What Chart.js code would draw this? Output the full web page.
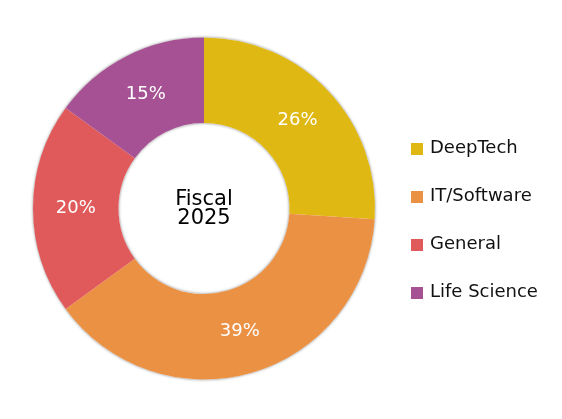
<!DOCTYPE html>
<html>
<head>
<meta charset="utf-8">
<script src="https://cdn.jsdelivr.net/npm/chart.js@4.4.1/dist/chart.umd.min.js"></script>
<style>
  html, body { margin: 0; padding: 0; background: #fff; }
  #wrap { width: 562px; height: 419px; position: relative; }
</style>
</head>
<body>
<div id="wrap"><canvas id="c" width="562" height="419"></canvas></div>
<script>
// Datos
const categories = ['DeepTech', 'IT/Software', 'General', 'Life Science'];
const shares = [26, 39, 20, 15];
const colors = ['#E0B814', '#EB9144', '#E05A5B', '#A65193'];
const centerLines = ['Fiscal', '2025'];

const FONT = '"DejaVu Sans", Verdana, sans-serif';

// Sombra suave del anillo
const ringShadow = {
  id: 'ringShadow',
  beforeDatasetsDraw(chart) {
    const arc = chart.getDatasetMeta(0).data[0];
    if (!arc) return;
    const ctx = chart.ctx;
    ctx.save();
    ctx.shadowColor = 'rgba(0,0,0,0.5)';
    ctx.shadowBlur = 3;
    ctx.fillStyle = '#fff';
    ctx.beginPath();
    ctx.arc(arc.x, arc.y, arc.outerRadius, 0, Math.PI * 2);
    ctx.arc(arc.x, arc.y, arc.innerRadius, 0, Math.PI * 2, true);
    ctx.fill();
    ctx.restore();
  }
};

// Porcentajes, texto central y leyenda
const labelsPlugin = {
  id: 'labelsPlugin',
  afterDatasetsDraw(chart) {
    const ctx = chart.ctx;
    const meta = chart.getDatasetMeta(0);
    ctx.save();
    ctx.textAlign = 'center';
    ctx.textBaseline = 'middle';
    ctx.fillStyle = '#fff';
    ctx.font = '18px ' + FONT;
    meta.data.forEach((arc, i) => {
      const mid = (arc.startAngle + arc.endAngle) / 2;
      const r = (arc.innerRadius + arc.outerRadius) / 2;
      ctx.fillText(shares[i] + '%', arc.x + Math.cos(mid) * r, arc.y + Math.sin(mid) * r);
    });

    const a0 = meta.data[0];
    ctx.fillStyle = '#000';
    ctx.font = '21px ' + FONT;
    ctx.fillText(centerLines[0], a0.x, a0.y - 9);
    ctx.fillText(centerLines[1], a0.x, a0.y + 10);

    // Leyenda
    ctx.textAlign = 'left';
    ctx.font = '18px ' + FONT;
    categories.forEach((name, i) => {
      const y = 148 + i * 48;
      ctx.fillStyle = colors[i];
      ctx.fillRect(411, y - 5, 12, 12);
      ctx.fillStyle = '#111';
      ctx.fillText(name, 430, y);
    });
    ctx.restore();
  }
};

new Chart(document.getElementById('c'), {
  type: 'doughnut',
  data: {
    labels: categories,
    datasets: [{
      data: shares,
      backgroundColor: colors,
      borderWidth: 0,
      hoverOffset: 0
    }]
  },
  options: {
    responsive: false,
    animation: false,
    cutout: '50%',
    layout: { padding: { left: 33, top: 37, right: 187, bottom: 39 } },
    plugins: {
      legend: { display: false },
      tooltip: { enabled: false }
    }
  },
  plugins: [ringShadow, labelsPlugin]
});
</script>
</body>
</html>
